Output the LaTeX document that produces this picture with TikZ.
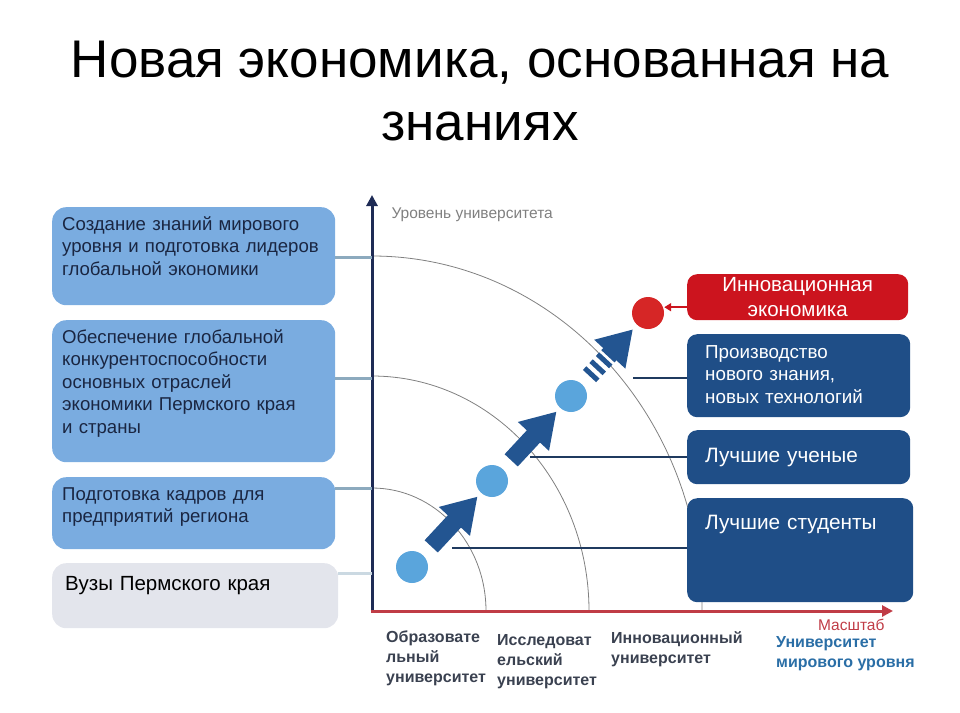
\documentclass[tikz,border=0pt]{standalone}
\usepackage{fontspec}
\setmainfont{Liberation Sans}
\usetikzlibrary{arrows.meta, positioning}
\definecolor{boxblue}{HTML}{7AACE0}
\definecolor{navy}{HTML}{1F4E87}
\definecolor{linknavy}{HTML}{1F3A5F}
\definecolor{arrowblue}{HTML}{235591}
\definecolor{dotblue}{HTML}{5AA5DC}
\definecolor{innovred}{HTML}{CC141E}
\definecolor{dotred}{HTML}{D62626}
\definecolor{vuzgray}{HTML}{E3E5EC}
\definecolor{axisnavy}{HTML}{1E2B55}
\definecolor{axisred}{HTML}{C03C46}
\definecolor{tickgray}{HTML}{8CAABE}
\definecolor{textnavy}{HTML}{1A2642}
\definecolor{labgray}{HTML}{3A4150}
\definecolor{worldblue}{HTML}{2A6EA6}
\newcommand\ox{372}
\newcommand\oy{611}
\newcommand\rx{687}

\begin{document}
\begin{tikzpicture}[x=1pt, y=-1pt,
    lbox/.style={anchor=north west, fill=boxblue, rounded corners=14pt, text=textnavy, align=left, inner xsep=10pt, inner ysep=10pt, text width=263pt, text height=13pt, font=\fontsize{18.6}{22.5}\selectfont},
    rbox/.style={anchor=north west, fill=navy, rounded corners=10pt, text=white, align=left, inner xsep=18pt, text width=187pt, text height=13pt},
    stage/.style={circle, fill=dotblue, minimum size=32pt, inner sep=0pt},
    bigarrow/.style={arrowblue, line width=18pt, -{Triangle[width=40pt, length=34pt]}},
    ring/.style={gray, line width=0.8pt},
    levelline/.style={tickgray, line width=3pt},
    link/.style={linknavy, line width=2pt},
    unilabel/.style={anchor=north west, align=left, text=labgray, font=\bfseries\fontsize{16}{20}\selectfont, inner sep=0pt}]

    \useasboundingbox (0, 0) rectangle (960, 712);

    % Title
    \node at (480, 41) [anchor=north, align=center, inner sep=0pt, font=\fontsize{53}{63}\selectfont] (title) {Новая экономика, основанная на\\знаниях};

    % Rings
    \draw[ring] (\ox, \oy - 123) arc[start angle=-90, end angle=0, x radius=114, y radius=123];
    \draw[ring] (\ox, \oy - 235) arc[start angle=-90, end angle=0, x radius=217, y radius=235];
    \draw[ring] (\ox, \oy - 355) arc[start angle=-90, end angle=0, x radius=330, y radius=355];

    % Goals
    \node at (52, 207) [lbox, text depth=65pt] (create) {Создание знаний мирового\\уровня и подготовка лидеров\\глобальной экономики};
    \node at (52, 320) [lbox, text depth=109pt] (compete) {Обеспечение глобальной\\конкурентоспособности\\основных отраслей\\экономики Пермского края\\и страны};
    \node at (52, 477) [lbox, text depth=39pt] (train) {Подготовка кадров для\\предприятий региона};
    \node at (52, 563) [lbox, fill=vuzgray, text=black, inner xsep=13pt, inner ysep=14pt, text width=260pt, text depth=24pt, font=\fontsize{20.5}{24}\selectfont] (vuzy) {Вузы Пермского края};

    % Axes
    \coordinate (o) at (\ox, \oy);
    \coordinate (ytop) at (\ox, 195);
    \coordinate (xend) at (893, \oy);
    \draw[axisnavy, line width=3pt, -{Triangle[width=11pt, length=11pt]}] (o) -- (ytop);
    \draw[axisred, line width=3pt, -{Triangle[width=11pt, length=11pt]}] ([xshift=-1.5pt]o) -- (xend);
    \node at (388, 215) [anchor=west, text=gray, font=\fontsize{15.5}{18}\selectfont] (ylab) {Уровень университета};
    \node at (888, 625) [anchor=east, text=axisred, font=\fontsize{15.5}{18}\selectfont] (xlab) {Масштаб};

    \node at (386, 631) [unilabel] (edu) {Образовате\\льный\\университет};
    \node at (497, 634) [unilabel] (res) {Исследоват\\ельский\\университет};
    \node at (611, 631) [unilabel] (inn) {Инновационный\\университет};
    \node at (776, 636) [unilabel, text=worldblue] (world) {Университет\\мирового уровня};

    % Levels
    \coordinate (lv1) at (\ox, 257);
    \coordinate (lv2) at (\ox, 378);
    \coordinate (lv3) at (\ox, 488);
    \coordinate (lv4) at (\ox, 573);
    \draw[levelline] (lv1) -- (lv1 -| create.east);
    \draw[levelline] (lv2) -- (lv2 -| compete.east);
    \draw[levelline] (lv3) -- (lv3 -| train.east);
    \draw[levelline, tickgray!45] (lv4) -- (lv4 -| vuzy.east);

    % Stages
    \node at (412, 567) [stage] (s1) {};
    \node at (492, 481) [stage] (s2) {};
    \node at (571, 396) [stage] (s3) {};
    \node at (648, 313) [stage, fill=dotred] (s4) {};

    \draw[bigarrow, shorten <=12pt, shorten >=5pt] (s1) -- (s2);
    \draw[bigarrow, shorten <=12pt, shorten >=5pt] (s2) -- (s3);
    \draw[arrowblue, line width=18pt, dash pattern=on 5pt off 4.5pt, shorten <=11pt, shorten >=45pt] (s3) -- (s4);
    \draw[bigarrow, shorten <=38pt, shorten >=6pt] (s3) -- (s4);

    % Outcomes
    \node at (\rx, 274) [rbox, fill=innovred, align=center, inner ysep=4pt, text depth=25pt, text width=185pt, font=\fontsize{20.5}{25}\selectfont] (innov) {Инновационная\\экономика};
    \node at (\rx, 334) [rbox, inner ysep=11pt, text depth=48pt, font=\fontsize{18.8}{22.5}\selectfont] (prod) {Производство\\нового знания,\\новых технологий};
    \node at (\rx, 430) [rbox, inner ysep=19pt, text depth=3pt, font=\fontsize{20.8}{24}\selectfont] (sci) {Лучшие ученые};
    \node at (\rx, 498) [rbox, inner ysep=18pt, text depth=55pt, text width=190pt, font=\fontsize{20.8}{24}\selectfont] (stud) {Лучшие студенты};

    \draw[innovred, line width=1.8pt, -{Triangle[width=8pt, length=7pt]}] ([yshift=-10pt]innov.west) -- ([yshift=-10pt]innov.west -| s4.east);

    \coordinate (lp) at (633, 378);
    \coordinate (ls) at (530, 457);
    \coordinate (lt) at (452, 548);
    \draw[link] (lp) -- (lp -| prod.west);
    \draw[link] (ls) -- (ls -| sci.west);
    \draw[link] (lt) -- (lt -| stud.west);

\end{tikzpicture}
\end{document}
